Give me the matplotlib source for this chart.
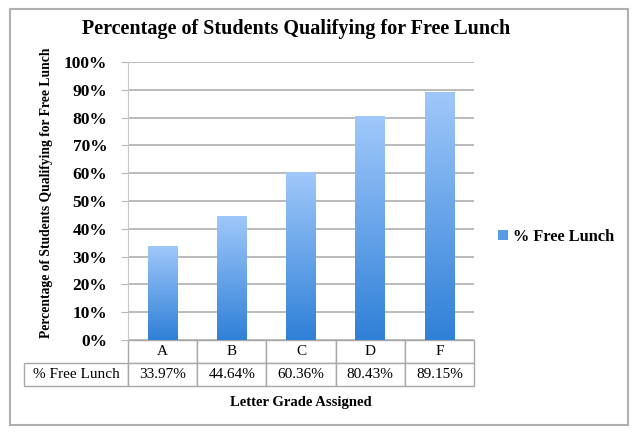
import numpy as np
import matplotlib.pyplot as plt
from matplotlib.patches import Rectangle
from matplotlib.colors import LinearSegmentedColormap

grades = ['A', 'B', 'C', 'D', 'F']
free_lunch = [33.97, 44.64, 60.36, 80.43, 89.15]
series_name = '% Free Lunch'
yticks = np.arange(0, 101, 10)

plt.rcParams['font.family'] = ['Liberation Serif', 'DejaVu Serif']

fig = plt.figure(figsize=(6.4, 4.34), dpi=100)
ax = fig.add_axes([0.2, 0.2166, 0.5406, 0.6406])

# gradient bars: light on top, darker at the bottom
cmap = LinearSegmentedColormap.from_list('bluegrad', ['#2f80d8', '#a0c8fa'])
grad = np.linspace(0, 1, 256).reshape(-1, 1)
x = np.arange(len(grades))
bars = ax.bar(x, free_lunch, width=0.43, color='none', edgecolor='none', zorder=3)
for b in bars:
    x0, w, h = b.get_x(), b.get_width(), b.get_height()
    im = ax.imshow(grad, cmap=cmap, origin='lower', aspect='auto',
                   extent=[x0, x0 + w, 0, h], zorder=3)
    im.set_clip_path(b)

ax.set_xlim(-0.5, len(grades) - 0.5)
ax.set_ylim(0, 100)
ax.set_yticks(yticks)
ax.set_yticklabels([f'{t}%' for t in yticks], fontsize=12.5, fontweight='bold')
ax.set_xticks([])
ax.grid(axis='y', color='#b5b5b5', linewidth=1.3, zorder=0)
ax.tick_params(axis='y', length=5, color='#b5b5b5', pad=10)
for s in ['top', 'right', 'bottom']:
    ax.spines[s].set_visible(False)
ax.spines['left'].set_color('#c8c8c8')

# data table under the chart (bbox covers the value columns only)
col_w = 1 / len(grades)
label_w = col_w * 93 / 69
tab = ax.table(cellText=[[f'{v:.2f}%' for v in free_lunch]],
               rowLabels=[series_name], colLabels=grades,
               cellLoc='center', rowLoc='center',
               bbox=[0, -0.165, 1, 0.165])
tab.auto_set_font_size(False)
for (r, c), cell in tab.get_celld().items():
    cell.set_edgecolor('#a8a8a8')
    cell.set_linewidth(1.0)
    cell.set_fontsize(11)
    cell.set_width(label_w if c == -1 else col_w)

ax.set_title('Percentage of Students Qualifying for Free Lunch',
             fontsize=14.5, fontweight='bold', x=0.485, pad=20)
fig.text(0.47, 0.072, 'Letter Grade Assigned', ha='center', va='center',
         fontsize=10.5, fontweight='bold')
fig.text(0.072, 0.555, 'Percentage of Students Qualifying for Free Lunch',
         rotation=90, ha='center', va='center', fontsize=9.8, fontweight='bold')

handle = Rectangle((0, 0), 1, 1, facecolor='#5a9be6')
fig.legend([handle], [series_name], loc='center left',
           bbox_to_anchor=(0.755, 0.454), frameon=False,
           prop={'size': 11.8, 'weight': 'bold'},
           handlelength=0.6, handleheight=0.6, handletextpad=0.3)

fig.patches.append(Rectangle((10 / 640, 9 / 434), 618 / 640, 416 / 434,
                             transform=fig.transFigure, fill=False,
                             edgecolor='#b0b0b0', linewidth=1.5))

fig.savefig('out.png', dpi=100)
